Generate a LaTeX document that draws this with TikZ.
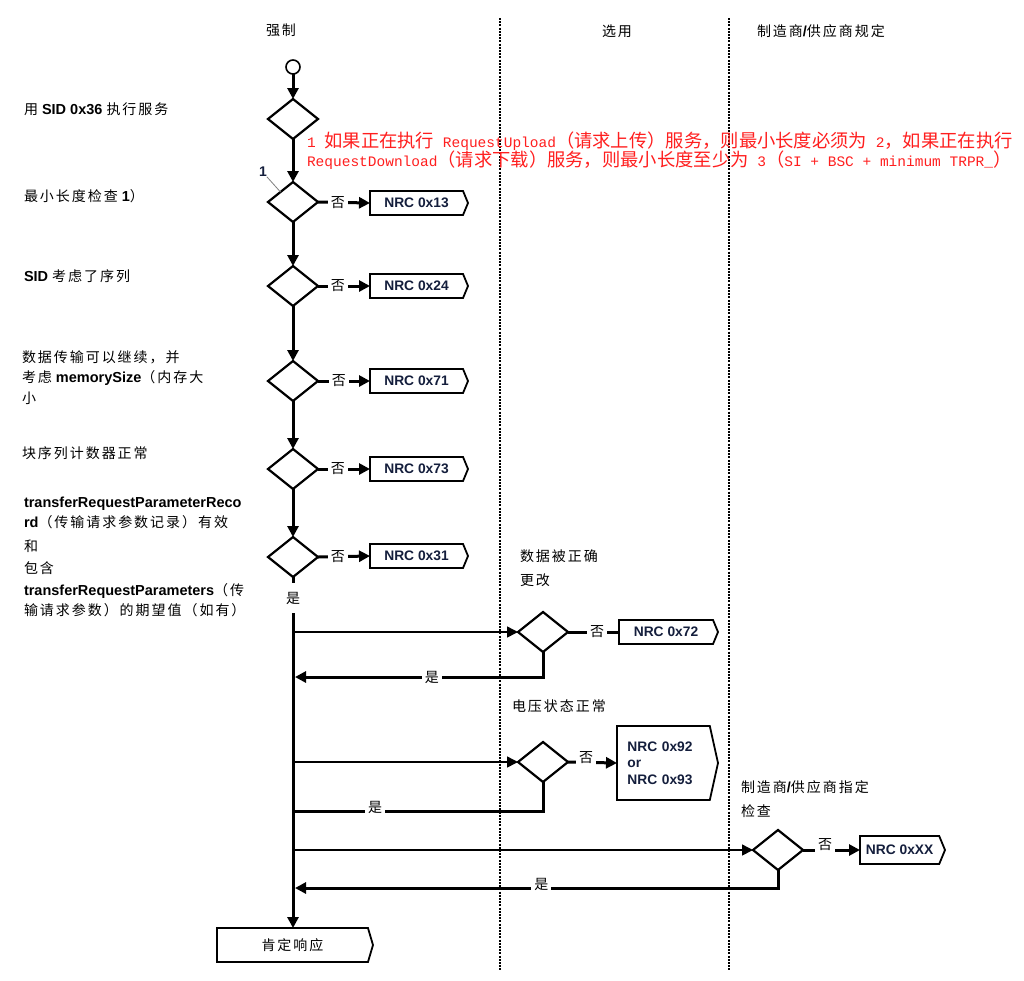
\documentclass[tikz,border=0pt]{standalone}
\usepackage{fontspec}
\setmainfont{Liberation Sans}
\newfontfamily\cjk[LetterSpace=14]{Noto Sans CJK SC}
\newfontfamily\cjkred{Noto Sans CJK SC}
\newfontfamily\redmono{Liberation Mono}
\usetikzlibrary{shapes.geometric,shapes.symbols,arrows.meta}
\definecolor{nrcblue}{RGB}{20,30,60}
\definecolor{notered}{RGB}{255,30,30}
\newcommand\zh[1]{{\cjk\mdseries\fontsize{14}{18}\selectfont #1}}
\newcommand\zr[1]{{\cjkred\fontsize{18.3}{20}\selectfont #1}}
\begin{document}
\begin{tikzpicture}[x=1pt,y=-1pt,
  every node/.style={inner sep=0pt, outer sep=0pt},
  txt/.style={anchor=base west, font=\fontsize{14.5}{18}\selectfont\bfseries},
  hdr/.style={anchor=base, font=\fontsize{14.5}{18}\selectfont\bfseries},
  dia/.style={diamond, draw, line width=2.2pt, minimum width=50pt, minimum height=40pt, inner sep=0pt},
  nrc/.style={signal, signal to=east, signal pointer angle=135, draw, line width=1.8pt,
    minimum height=24pt, anchor=west, text=nrcblue, font=\fontsize{13.8}{16.5}\selectfont\bfseries},
  flow/.style={line width=3pt},
  tip/.style={-{Triangle[length=11pt,width=11pt]}},
  feed/.style={line width=1.5pt, -{Triangle[length=11pt,width=11pt]}},
  lab/.style={fill=white, inner sep=3pt},
  sep/.style={line width=2.2pt, dash pattern=on 2pt off 1.2pt},
  redtxt/.style={anchor=base west, text=notered, font=\redmono\fontsize{14.5}{18}\selectfont}
]
\useasboundingbox (0,0) rectangle (1024,980);

% separators
\coordinate (s1t) at (500,18); \coordinate (s1b) at (500,970);
\coordinate (s2t) at (729,18); \coordinate (s2b) at (729,970);
\draw[sep] (s1t) -- (s1b);
\draw[sep] (s2t) -- (s2b);

% headers
\node[hdr] (h1) at (281,35) {\zh{强制}};
\node[hdr] (h2) at (617,36) {\zh{选用}};
\node[txt] (h3) at (757,36) {\zh{制造商}/\zh{供应商规定}};

% left labels
\node[txt] (t1) at (24,114) {\zh{用} SID 0x36 \zh{执行服务}};
\node[txt] (t2) at (24,201) {\zh{最小长度检查} 1\zh{）}};
\node[txt] (t3) at (24,281) {SID \zh{考虑了序列}};
\node[txt] (t4a) at (22,362) {\zh{数据传输可以继续，并}};
\node[txt] (t4b) at (22,382) {\zh{考虑} memorySize\zh{（内存大}};
\node[txt] (t4c) at (22,403) {\zh{小}};
\node[txt] (t5) at (22,458) {\zh{块序列计数器正常}};
\node[txt] (t6a) at (24,507) {transferRequestParameterReco};
\node[txt] (t6b) at (24,527) {rd\zh{（传输请求参数记录）有效}};
\node[txt] (t6c) at (24,551) {\zh{和}};
\node[txt] (t6d) at (24,573) {\zh{包含}};
\node[txt] (t6e) at (24,595) {transferRequestParameters\zh{（传}};
\node[txt] (t6f) at (24,615) {\zh{输请求参数）的期望值（如有）}};

% branch labels
\node[txt] (b1a) at (520,561) {\zh{数据被正确}};
\node[txt] (b1b) at (520,585) {\zh{更改}};
\node[txt] (b2) at (512,711) {\zh{电压状态正常}};
\node[txt] (b3a) at (741,792) {\zh{制造商}/\zh{供应商指定}};
\node[txt] (b3b) at (741,816) {\zh{检查}};

% red note
\node[redtxt] (note1) at (307,147) {1 \zr{如果正在执行} RequestUpload\zr{（请求上传）服务，则最小长度必须为} 2\zr{，如果正在执行}};
\node[redtxt] (note2) at (307,166) {RequestDownload\zr{（请求下载）服务，则最小长度至少为} 3\zr{（}SI + BSC + minimum TRPR\_\zr{）}};

% main chain
\node[circle, draw, line width=1.6pt, minimum size=14pt] (start) at (293,67) {};
\node[dia] (d1) at (293,119) {};
\node[dia] (d2) at (293,202) {};
\node[dia] (d3) at (293,286) {};
\node[dia] (d4) at (293,381) {};
\node[dia] (d5) at (293,469) {};
\node[dia] (d6) at (293,557) {};

\node[nrc, minimum width=98pt] (n13) at (370,203) {NRC 0x13};
\node[nrc, minimum width=98pt] (n24) at (370,286) {NRC 0x24};
\node[nrc, minimum width=98pt] (n71) at (370,381) {NRC 0x71};
\node[nrc, minimum width=98pt] (n73) at (370,469) {NRC 0x73};
\node[nrc, minimum width=98pt] (n31) at (370,556) {NRC 0x31};

\node[nrc, minimum width=156pt, minimum height=34pt, signal pointer angle=147, text=black] (fin) at (217,945) {\zh{肯定响应}};

\draw[flow, tip] (start) -- (d1);
\draw[flow, tip] (d1) -- (d2);
\draw[flow, tip] (d2) -- (d3);
\draw[flow, tip] (d3) -- (d4);
\draw[flow, tip] (d4) -- (d5);
\draw[flow, tip] (d5) -- (d6);
\draw[flow, tip] (d6.south) -- (d6.south |- fin.north) node[lab, pos=0.06, minimum height=30pt] (y0) {\zh{是}};

\draw[flow, tip] (d2.east) -- (n13.west) node[lab, pos=0.38] (no1) {\zh{否}};
\draw[flow, tip] (d3.east) -- (n24.west) node[lab, pos=0.38] (no2) {\zh{否}};
\draw[flow, tip] (d4.east) -- (n71.west) node[lab, pos=0.40] (no3) {\zh{否}};
\draw[flow, tip] (d5.east) -- (n73.west) node[lab, pos=0.38] (no4) {\zh{否}};
\draw[flow, tip] (d6.east) -- (n31.west) node[lab, pos=0.38] (no5) {\zh{否}};

% footnote marker
\node[font=\fontsize{14}{16}\selectfont\bfseries, text=nrcblue] (m1) at (263,172) {1};
\draw[gray, line width=0.8pt] (m1.south east) -- (d2.north west);

% branch 1
\coordinate (f1) at (293,632);
\node[dia] (e1) at (543,632) {};
\node[nrc, minimum width=99pt] (n72) at (619,632) {NRC 0x72};
\draw[feed] (f1) -- (e1.west);
\draw[flow] (e1.east) -- (n72.west) node[lab, pos=0.57] (no6) {\zh{否}};
\coordinate (r1) at (295,677);
\draw[flow, tip] (e1.south) |- (r1) node[lab, pos=0.724] (y1) {\zh{是}};

% branch 2
\coordinate (f2) at (293,762);
\node[dia] (e2) at (543,762) {};
\node[nrc, minimum width=101pt, minimum height=74pt, signal pointer angle=155, align=left, text width=72pt] (n92) at (617,763) {NRC 0x92\\or\\NRC 0x93};
\draw[feed] (f2) -- (e2.west);
\draw[flow, tip] (e2.east) -- (n92.west) node[lab, pos=0.37, yshift=5pt] (no7) {\zh{否}};
\coordinate (r2) at (293,811);
\draw[flow] (e2.south) |- (r2) node[lab, pos=0.836, yshift=4pt] (y2) {\zh{是}};

% branch 3
\coordinate (f3) at (293,850);
\node[dia] (e3) at (778,850) {};
\node[nrc, minimum width=85pt, minimum height=28pt] (nxx) at (860,850) {NRC 0xXX};
\draw[feed] (f3) -- (e3.west);
\draw[flow, tip] (e3.east) -- (nxx.west) node[lab, pos=0.39, yshift=5pt] (no8) {\zh{否}};
\coordinate (r3) at (295,888);
\draw[flow, tip] (e3.south) |- (r3) node[lab, pos=0.745, yshift=4pt] (y3) {\zh{是}};

\end{tikzpicture}
\end{document}
